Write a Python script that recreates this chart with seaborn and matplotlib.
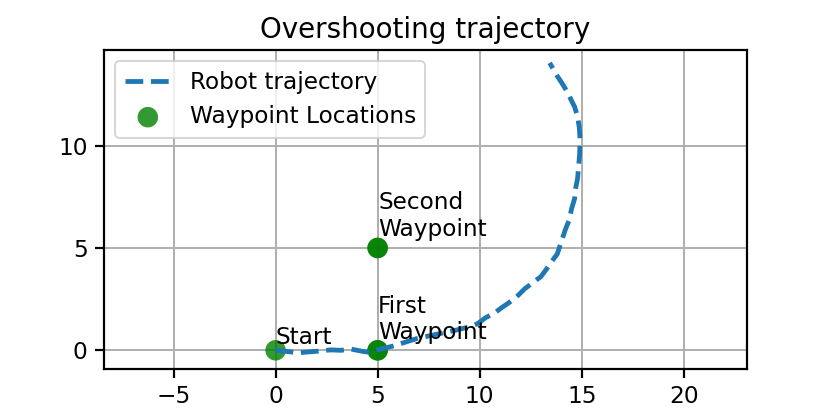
#!/usr/bin/env python3
"""Overshooting trajectory: dashed robot path + waypoint markers"""
import matplotlib; matplotlib.use("Agg")
import matplotlib.pyplot as plt
import seaborn as sns

# ---- data ----
traj_x = [0.0, 0.5, 1.1, 1.6, 2.1, 2.7, 3.2, 3.7, 4.2, 4.6, 5.0, 5.4, 5.8, 6.3, 7.0,
          7.6, 8.2, 8.9, 9.5, 9.9, 10.3, 10.7, 11.1, 11.4, 11.8, 12.2, 12.6, 13.0,
          13.3, 13.5, 13.8, 14.0, 14.2, 14.4, 14.5, 14.65, 14.7, 14.8, 14.85, 14.9,
          14.92, 14.88, 14.8, 14.65, 14.45, 14.25, 14.0, 13.8, 13.6, 13.43]
traj_y = [0.0, -0.05, -0.12, -0.08, -0.04, 0.02, 0.0, 0.06, -0.04, -0.1, 0.02, 0.12,
          0.22, 0.38, 0.6, 0.72, 0.85, 1.0, 1.15, 1.3, 1.6, 1.8, 2.1, 2.3, 2.6, 3.0,
          3.3, 3.6, 4.0, 4.3, 4.7, 5.3, 5.9, 6.4, 6.9, 7.4, 7.9, 8.4, 9.0, 9.6, 10.3,
          10.9, 11.4, 11.9, 12.3, 12.7, 13.1, 13.4, 13.75, 14.04]
wp_x = [0, 5, 5]
wp_y = [0, 0, 5]
wp_names = ["Start", "First\nWaypoint", "Second\nWaypoint"]
label_dy = [0.05, 0.3, 0.35]

plt.rcParams["font.size"] = 11.6

fig, ax = plt.subplots(figsize=(830 / 144, 415 / 144), dpi=144)

sns.lineplot(x=traj_x, y=traj_y, sort=False, estimator=None, ax=ax,
             color="#1f77b4", linestyle="--", linewidth=2.4, zorder=3,
             label="Robot trajectory")
sns.scatterplot(x=wp_x, y=wp_y, ax=ax, color="green", alpha=0.8, s=105,
                edgecolor="none", zorder=2, label="Waypoint Locations")
sns.scatterplot(x=wp_x[1:], y=wp_y[1:], ax=ax, color="green", alpha=0.8, s=105,
                edgecolor="none", zorder=2, legend=False)

for x, y, name, dy in zip(wp_x, wp_y, wp_names, label_dy):
    ax.text(x + 0.02, y + dy, name, fontsize=11.6, va="bottom", ha="left")

ax.set_xlim(-8.42, 23.1); ax.set_ylim(-0.93, 14.68)
ax.set_xticks([-5, 0, 5, 10, 15, 20]); ax.set_yticks([0, 5, 10])
ax.tick_params(labelsize=11.6, width=1.1, length=4.5)
for s in ax.spines.values(): s.set_linewidth(1.1)
ax.grid(True, linewidth=1.0)
ax.set_title("Overshooting trajectory", fontsize=13.9)
ax.legend(loc="upper left", fontsize=11.6)

fig.subplots_adjust(left=0.125, right=0.9, bottom=0.11, top=0.88)
fig.savefig("out.png", dpi=144)
plt.close()
